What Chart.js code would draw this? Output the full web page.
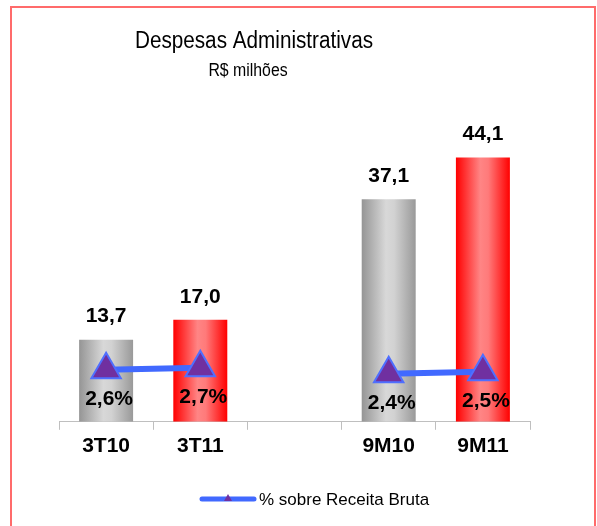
<!DOCTYPE html>
<html>
<head>
<meta charset="utf-8">
<script src="https://cdn.jsdelivr.net/npm/chart.js@4.4.1/dist/chart.umd.min.js"></script>
<style>
    body { margin: 0; background: #fff; overflow: hidden; }
    #frame { position: absolute; left: 10px; top: 6px; width: 586px; height: 600px; box-sizing: border-box; border: 2px solid #ff6b6b; }
    #wrap { position: absolute; left: 0; top: 0; width: 597px; height: 526px; }
</style>
</head>
<body>
<div id="frame"></div>
<div id="wrap"><canvas id="myChart" width="597" height="526"></canvas></div>
<script>
    const FONT = '"Liberation Sans", Arial, sans-serif'

    // Chart data
    const periods = ['3T10', '3T11', '', '9M10', '9M11']
    const despesas = [13.7, 17.0, null, 37.1, 44.1]
    const despesasLabels = ['13,7', '17,0', '', '37,1', '44,1']
    const percentReceita = [2.6, 2.7, null, 2.4, 2.5]
    const percentLabels = ['2,6%', '2,7%', '', '2,4%', '2,5%']
    const barKinds = ['gray', 'red', '', 'gray', 'red']

    const titleText = 'Despesas Administrativas'
    const subtitleText = 'R$ milhões'
    const legendText = '% sobre Receita Bruta'

    const BAR_PCT = 0.573

    // horizontal gradient for each bar, built from the x scale
    function barFill(context) {
        let chart = context.chart
        let kind = barKinds[context.dataIndex]
        let solid = kind === 'red' ? '#ff3030' : '#b0b0b0'
        if (!chart.chartArea || !chart.scales.x) return solid
        let xScale = chart.scales.x
        let center = xScale.getPixelForValue(context.dataIndex)
        let half = (xScale.getPixelForValue(1) - xScale.getPixelForValue(0)) * BAR_PCT / 2
        let g = chart.ctx.createLinearGradient(center - half, 0, center + half, 0)
        if (kind === 'red') {
            g.addColorStop(0, '#ff0000')
            g.addColorStop(0.45, '#ff8585')
            g.addColorStop(0.6, '#ff7a7a')
            g.addColorStop(1, '#ff0000')
        } else {
            g.addColorStop(0, '#959595')
            g.addColorStop(0.45, '#d8d8d8')
            g.addColorStop(0.6, '#d2d2d2')
            g.addColorStop(1, '#999999')
        }
        return g
    }

    // condensed text, like the narrow title font of the original
    function narrowText(ctx, text, x, y, font, squeeze) {
        ctx.save()
        ctx.font = font
        ctx.translate(x, y)
        ctx.scale(squeeze, 1)
        ctx.fillText(text, 0, 0)
        ctx.restore()
    }

    // titles, value labels and legend
    const decorations = {
        id: 'decorations',
        afterDatasetsDraw(chart) {
            let ctx = chart.ctx
            ctx.save()
            ctx.fillStyle = '#000'
            ctx.textAlign = 'center'
            ctx.textBaseline = 'middle'

            narrowText(ctx, titleText, 254, 42, '23px ' + FONT, 0.9)
            narrowText(ctx, subtitleText, 248, 71, '18px ' + FONT, 0.88)

            // bar values
            let barMeta = chart.getDatasetMeta(0)
            ctx.font = 'bold 21px ' + FONT
            barMeta.data.forEach(function (bar, i) {
                if (despesas[i] === null) return
                ctx.fillText(despesasLabels[i], bar.x, bar.y - 23)
            })

            // percent values
            let lineMeta = chart.getDatasetMeta(1)
            lineMeta.data.forEach(function (pt, i) {
                if (percentReceita[i] === null) return
                ctx.fillText(percentLabels[i], pt.x + 3, pt.y + 29)
            })

            // legend
            ctx.strokeStyle = '#4169ff'
            ctx.lineWidth = 5
            ctx.lineCap = 'round'
            ctx.beginPath()
            ctx.moveTo(202, 499)
            ctx.lineTo(254, 499)
            ctx.stroke()
            ctx.fillStyle = '#7030a0'
            ctx.beginPath()
            ctx.moveTo(228, 494)
            ctx.lineTo(232, 501)
            ctx.lineTo(224, 501)
            ctx.closePath()
            ctx.fill()
            ctx.fillStyle = '#000'
            ctx.textAlign = 'left'
            ctx.font = '17px ' + FONT
            ctx.fillText(legendText, 259, 500)
            ctx.restore()
        }
    }

    let ctx = document.getElementById('myChart')
    let myChart = new Chart(ctx, {
        type: 'bar',
        data: {
            labels: periods,
            datasets: [{
                type: 'bar',
                label: 'Despesas',
                data: despesas,
                backgroundColor: barFill,
                borderWidth: 0,
                categoryPercentage: 1,
                barPercentage: BAR_PCT,
                yAxisID: 'y',
                order: 2
            }, {
                type: 'line',
                label: legendText,
                data: percentReceita,
                yAxisID: 'y2',
                borderColor: '#4169ff',
                borderWidth: 6,
                spanGaps: false,
                pointStyle: 'triangle',
                pointRadius: 17,
                pointHoverRadius: 17,
                pointBackgroundColor: '#7030a0',
                pointBorderColor: '#4f6fff',
                pointBorderWidth: 2,
                order: 1
            }]
        },
        options: {
            responsive: false,
            animation: false,
            events: [],
            layout: {
                padding: { left: 59, right: 67, top: 122, bottom: 63 }
            },
            plugins: {
                legend: { display: false },
                title: { display: false },
                tooltip: { enabled: false }
            },
            scales: {
                x: {
                    offset: true,
                    grid: {
                        offset: true,
                        drawOnChartArea: false,
                        drawTicks: true,
                        tickLength: 8,
                        color: '#bfbfbf'
                    },
                    border: { display: true, color: '#bfbfbf', width: 1 },
                    ticks: {
                        color: '#000',
                        padding: 4,
                        font: { family: FONT, size: 21, weight: 'bold' }
                    }
                },
                y: {
                    display: false,
                    min: 0,
                    max: 50
                },
                y2: {
                    display: false,
                    position: 'right',
                    min: 0,
                    max: 15
                }
            }
        },
        plugins: [decorations]
    })
</script>
</body>
</html>
